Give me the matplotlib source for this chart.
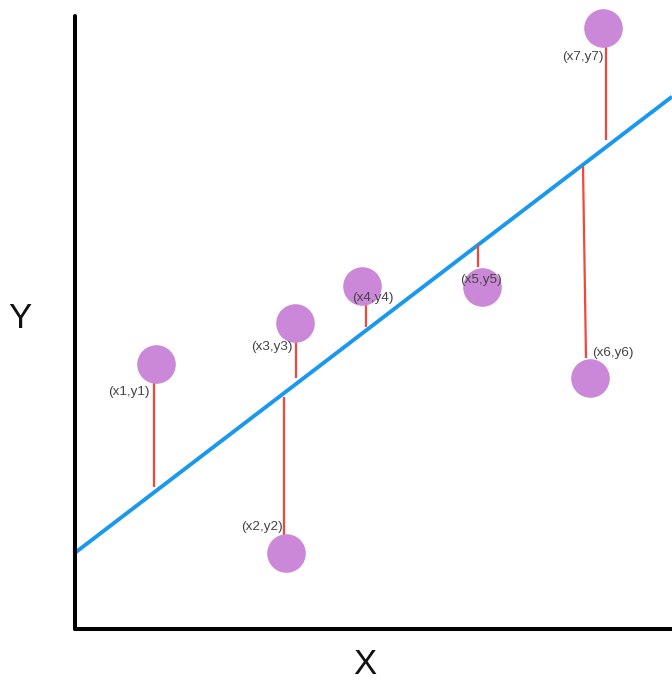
import matplotlib
matplotlib.use("Agg")
import matplotlib.pyplot as plt
import numpy as np

# ---- data (axis units: x from 0 to 597, y from 0 to 612.5) ----
labels = ["(x1,y1)", "(x2,y2)", "(x3,y3)", "(x4,y4)", "(x5,y5)", "(x6,y6)", "(x7,y7)"]
px = [81, 211, 220, 287, 407, 515, 528]
py = [264.5, 75.5, 305.5, 342.5, 341.5, 250.5, 600.5]

# regression line
intercept = 75.7
slope = 0.764
line_x = [0, 597]

# residual segments (line end -> point end)
res_x0 = [79.3, 209, 220.7, 291, 403, 508, 531]
res_y0 = [141.5, 231.5, 250.5, 301.5, 383.5, 462.5, 488.5]
res_x1 = [79.3, 209, 220.7, 291, 403, 511, 531]
res_y1 = [245.5, 93.5, 286.5, 323.5, 361.5, 270.5, 581.5]

# label offsets from points, in points (layout)
offsets = [(-19.5, -20), (-17.5, 19), (-17, -17.5), (7.5, -8.5), (-0.7, 5), (16.5, 18), (-14.5, -21)]

W, H = 672, 680
fig = plt.figure(figsize=(W / 100, H / 100), dpi=100)
left, right, top, bottom = 75, 672, 16, 628.5
ax = fig.add_axes([left / W, 1 - bottom / H, (right - left) / W, (bottom - top) / H])
ax.set_xlim(0, right - left)
ax.set_ylim(0, bottom - top)

for s in ["top", "right"]:
    ax.spines[s].set_visible(False)
for s in ["left", "bottom"]:
    ax.spines[s].set_linewidth(2.9)
    ax.spines[s].set_color("black")
    ax.spines[s].set_capstyle("round")
ax.set_xticks([])
ax.set_yticks([])

# regression line
lx = np.array(line_x, dtype=float)
ax.plot(lx, intercept + slope * lx, color="#1a98ee", lw=2.8, solid_capstyle="butt", zorder=2)

# residuals
for x0, y0, x1, y1 in zip(res_x0, res_y0, res_x1, res_y1):
    ax.plot([x0, x1], [y0, y1], color="#f4473a", lw=1.6, zorder=3, solid_capstyle="butt")

# points
ax.plot(px, py, "o", ms=27.8, color="#cc88d8", mec="none", zorder=4, clip_on=False)

# labels
for lab, x, y, (dx, dy) in zip(labels, px, py, offsets):
    ax.annotate(lab, (x, y), xytext=(dx, dy), textcoords="offset points",
                ha="center", va="center", fontsize=9.7, color="#444444",
                family="Liberation Sans", zorder=5, annotation_clip=False)

fig.text(365 / W, 1 - 665 / H, "X", ha="center", va="center", fontsize=25,
         family="Liberation Sans", color="#111111")
fig.text(20 / W, 1 - 319 / H, "Y", ha="center", va="center", fontsize=25,
         family="Liberation Sans", color="#111111")

fig.savefig("out.png", dpi=100, facecolor="white")
